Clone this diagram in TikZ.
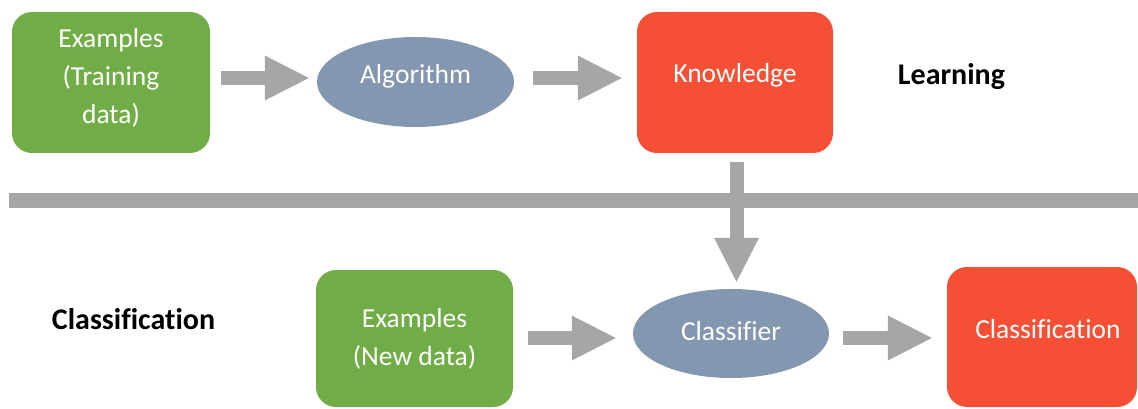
\documentclass[tikz,border=0pt]{standalone}
\usepackage{fontspec}
\setmainfont{Carlito}[Ligatures=NoCommon]
\usetikzlibrary{arrows.meta,shapes.geometric}

\definecolor{boxgreen}{HTML}{70AD47}
\definecolor{boxred}{HTML}{F55036}
\definecolor{ovalblue}{HTML}{8497B0}
\definecolor{flowgray}{HTML}{A6A6A6}

\tikzset{
  shapetext/.style={text=white, font=\fontsize{27.5}{38}\selectfont, align=center, inner sep=0pt},
  roundbox/.style={shapetext, rectangle, rounded corners=20pt},
  greenbox/.style={roundbox, fill=boxgreen},
  redbox/.style={roundbox, fill=boxred},
  oval/.style={shapetext, ellipse, fill=ovalblue},
  heading/.style={font=\fontsize{30}{36}\selectfont\bfseries, text=black, inner sep=0pt, anchor=base},
  blockarrow/.style={draw=flowgray, line width=14pt,
    -{Triangle[length=44pt, width=45pt, line width=0pt]}},
}

\begin{document}
\begin{tikzpicture}[x=1pt, y=-1pt]
\useasboundingbox (0,0) rectangle (1138,409);

% learning row
\node[greenbox, minimum width=198pt, minimum height=141pt] (ex1) at (111,82.5)
  {Examples\\(Training\\data)\rule[-13pt]{0pt}{13pt}};
\node[oval, minimum width=197pt, minimum height=90pt, text height=12pt, text depth=8pt] (alg) at (415.5,82) {Algorithm};
\node[redbox, minimum width=196pt, minimum height=141pt, text height=10pt, text depth=10pt] (know) at (735,82.5) {Knowledge};
\node[heading] (learn) at (951.5,85) {Learning};

% separator between the two phases
\fill[flowgray] (9,193) rectangle (1138,208);

% classification row
\node[heading] (cls) at (133.5,329) {Classification};
\node[greenbox, minimum width=197pt, minimum height=137pt] (ex2) at (414.5,338.5)
  {Examples\\(New data)};
\node[oval, minimum width=196pt, minimum height=89pt, text height=17pt, text depth=2.6pt] (clf) at (731,333.5) {Classifier};
\node[redbox, minimum width=190pt, minimum height=140pt, text height=11.3pt, text depth=8.7pt] (res) at (1042,337) {\hspace{12pt}Classification};

% flow arrows
\draw[blockarrow, shorten <=11pt, shorten >=8pt] ([yshift=4.5pt]ex1.east) -- ([yshift=4pt]alg.west);
\draw[blockarrow, shorten <=19pt, shorten >=15pt] ([yshift=4pt]alg.east) -- ([yshift=4.5pt]know.west);
\draw[blockarrow, shorten <=9pt, shorten >=7pt] ([xshift=1.5pt]know.south) -- ([xshift=1.5pt]know.south |- clf.north);
\draw[blockarrow, shorten <=15pt, shorten >=17pt] ([yshift=0.5pt]ex2.east) -- ([yshift=-4.5pt]clf.west);
\draw[blockarrow, shorten <=14pt, shorten >=15pt] ([yshift=-4.5pt]clf.east) -- ([yshift=-1pt]res.west);
\end{tikzpicture}
\end{document}
